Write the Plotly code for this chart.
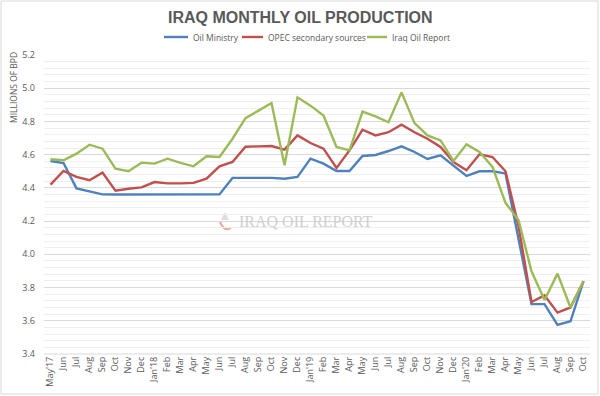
import plotly.graph_objects as go

months = ["May'17", "Jun", "Jul", "Aug", "Sep", "Oct", "Nov", "Dec",
          "Jan'18", "Feb", "Mar", "Apr", "May", "Jun", "Jul", "Aug", "Sep", "Oct", "Nov", "Dec",
          "Jan'19", "Feb", "Mar", "Apr", "May", "Jun", "Jul", "Aug", "Sep", "Oct", "Nov", "Dec",
          "Jan'20", "Feb", "Mar", "Apr", "May", "Jun", "Jul", "Aug", "Sep", "Oct"]

oil_ministry = [4.562, 4.55, 4.397, 4.377, 4.361, 4.36, 4.36, 4.362,
                4.362, 4.36, 4.36, 4.36, 4.36, 4.361, 4.46, 4.46, 4.46, 4.46, 4.455, 4.466,
                4.576, 4.546, 4.502, 4.502, 4.592, 4.598, 4.622, 4.65, 4.616, 4.574, 4.596, 4.536,
                4.472, 4.50, 4.50, 4.487, 4.10, 3.70, 3.70, 3.575, 3.597, 3.838]

opec_secondary = [4.42, 4.502, 4.466, 4.446, 4.492, 4.383, 4.395, 4.403,
                  4.435, 4.427, 4.427, 4.43, 4.456, 4.53, 4.556, 4.648, 4.65, 4.652, 4.63, 4.716,
                  4.67, 4.636, 4.52, 4.626, 4.75, 4.716, 4.735, 4.781, 4.735, 4.696, 4.646, 4.556,
                  4.506, 4.602, 4.586, 4.50, 4.17, 3.713, 3.753, 3.649, 3.68, 3.838]

iraq_oil_report = [4.572, 4.566, 4.606, 4.66, 4.636, 4.516, 4.50, 4.552,
                   4.546, 4.576, 4.55, 4.53, 4.59, 4.586, 4.696, 4.82, 4.865, 4.911, 4.536, 4.945,
                   4.895, 4.835, 4.646, 4.626, 4.859, 4.83, 4.795, 4.975, 4.79, 4.716, 4.686, 4.562,
                   4.662, 4.616, 4.526, 4.31, 4.207, 3.898, 3.725, 3.884, 3.68, 3.838]

series_names = ["Oil Ministry", "OPEC secondary sources", "Iraq Oil Report"]
series_colors = ["#4F81BD", "#C0504D", "#9BBB59"]
series_values = [oil_ministry, opec_secondary, iraq_oil_report]

xidx = list(range(len(months)))

fig = go.Figure()
for name, color, vals in zip(series_names, series_colors, series_values):
    fig.add_trace(go.Scatter(x=xidx, y=vals, mode="lines", name=name, showlegend=False,
                             line=dict(color=color, width=2.4), hoverinfo="x+y+name"))

W, H = 600, 396
ml, mr, mt, mb = 44, 10, 55, 42
pw, ph = W - ml - mr, H - mt - mb

def px_x(x):
    return (x - ml) / pw

def px_y(y):
    return (H - mb - y) / ph

FONT = "Open Sans, sans-serif"

annotations = [
    dict(text="<b>IRAQ MONTHLY OIL PRODUCTION</b>", xref="paper", yref="paper",
         x=px_x(300), y=px_y(17), xanchor="center", yanchor="middle", showarrow=False,
         font=dict(size=16, color="#595959", family="Liberation Sans, Arial, sans-serif")),
    dict(text="MILLIONS OF BPD", textangle=-90, xref="paper", yref="paper",
         x=px_x(13), y=px_y(88), xanchor="center", yanchor="middle", showarrow=False,
         font=dict(size=8.5, color="#595959", family=FONT)),
    dict(text="IRAQ OIL REPORT", xref="paper", yref="paper",
         x=px_x(306), y=px_y(221), xanchor="center", yanchor="middle", showarrow=False,
         font=dict(size=16, color="#cfcfcf", family="Liberation Serif, serif")),
]

shapes = [
    dict(type="rect", xref="paper", yref="paper",
         x0=px_x(1), x1=px_x(598), y0=px_y(394), y1=px_y(1),
         line=dict(color="#d9d9d9", width=1), fillcolor="rgba(0,0,0,0)", layer="below"),
    dict(type="line", xref="paper", yref="paper",
         x0=0, x1=1, y0=0, y1=0, line=dict(color="#d9d9d9", width=1), layer="below"),
    # watermark logo: small grey triangle + reddish arc
    dict(type="path", xref="paper", yref="paper",
         path="M {:.4f},{:.4f} L {:.4f},{:.4f} L {:.4f},{:.4f} Z".format(
             px_x(221), px_y(220), px_x(229), px_y(220), px_x(225), px_y(212)),
         fillcolor="#dedede", line=dict(width=0), layer="below"),
    dict(type="path", xref="paper", yref="paper",
         path="M {:.4f},{:.4f} Q {:.4f},{:.4f} {:.4f},{:.4f}".format(
             px_x(220), px_y(222), px_x(224), px_y(232), px_x(231), px_y(228)),
         line=dict(color="#e6aaa0", width=2), layer="below"),
]

# custom legend
legend_items = [(164, 188, 191), (242, 263, 266), (367, 387, 390)]
for (lx0, lx1, tx), name, color in zip(legend_items, series_names, series_colors):
    shapes.append(dict(type="line", xref="paper", yref="paper",
                       x0=px_x(lx0), x1=px_x(lx1), y0=px_y(37), y1=px_y(37),
                       line=dict(color=color, width=2.4)))
    annotations.append(dict(text=name, xref="paper", yref="paper",
                            x=px_x(tx), y=px_y(37), xanchor="left", yanchor="middle",
                            showarrow=False,
                            font=dict(size=8.5, color="#595959", family=FONT)))

fig.update_layout(
    width=W, height=H,
    margin=dict(l=ml, r=mr, t=mt, b=mb, pad=0),
    paper_bgcolor="white", plot_bgcolor="white",
    font=dict(family=FONT, color="#595959"),
    showlegend=False,
    xaxis=dict(
        type="linear", range=[-0.5, len(months) - 0.5],
        tickmode="array", tickvals=xidx, ticktext=months, tickangle=-90,
        tickfont=dict(size=9, color="#595959", family=FONT),
        showgrid=False, zeroline=False, showline=False, ticks="", fixedrange=True,
        automargin=False,
    ),
    yaxis=dict(
        range=[3.4, 5.2], dtick=0.2, tick0=3.4, tickformat=".1f",
        tickfont=dict(size=9, color="#595959", family=FONT),
        showgrid=True, gridcolor="#d9d9d9", gridwidth=1,
        minor=dict(dtick=0.04, tick0=3.4, showgrid=True, gridcolor="#efefef", gridwidth=1),
        zeroline=False, showline=False, ticks="", ticklabelstandoff=8,
        automargin=False,
    ),
    annotations=annotations,
    shapes=shapes,
)

fig.write_html("out.html", config={"displayModeBar": False},
               post_script="document.body.style.margin='0';")
